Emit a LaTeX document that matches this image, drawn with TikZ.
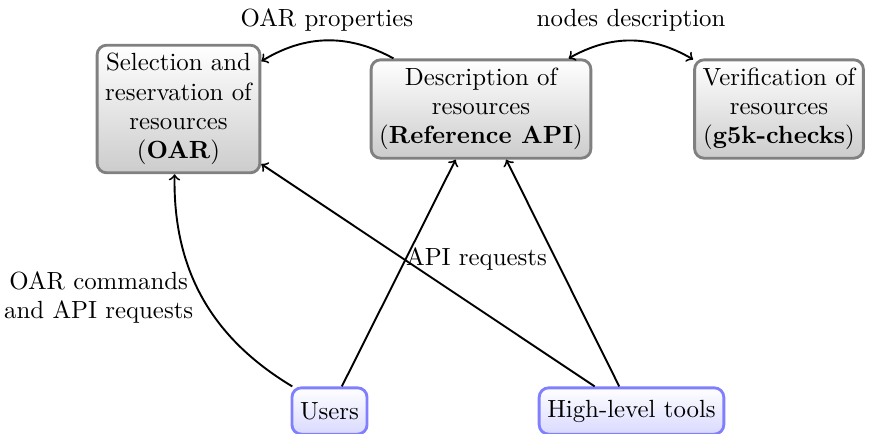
\documentclass[tikz,border=0pt]{standalone}
\usetikzlibrary{arrows}
\tikzset{
  resbox/.style={draw=gray, very thick, rounded corners, top color=white, bottom color=black!20, align=center},
  userbox/.style={draw=blue!50, very thick, rounded corners, top color=white, bottom color=blue!15, align=center, minimum height=19.5pt},
  conn/.style={->, thick},
}
\begin{document}
\begin{tikzpicture}[x=0.01478cm, y=-0.01478cm, every node/.style={font=\fontsize{10.45pt}{12.3pt}\selectfont, inner sep=3.4pt}]
\useasboundingbox (0,0) rectangle (870,433);
\node[resbox] (oar) at (178.5,109) {Selection and\\reservation of\\resources\\(\textbf{OAR})};
\node[resbox] (ref) at (481,109) {Description of\\resources\\(\textbf{Reference API})};
\node[resbox] (g5k) at (779,109) {Verification of\\resources\\(\textbf{g5k-checks})};
\node[userbox] (users) at (329.5,411) {Users};
\node[userbox] (hlt) at (631.5,411) {High-level tools};
\draw[conn] (ref) to[bend right] node[above] {OAR properties} (oar);
\draw[conn, <->] (ref) to[bend left] node[above] {nodes description} (g5k);
\draw[conn] (users) to[bend left] node[left, align=center] {OAR commands\\and API requests} (oar);
\draw[conn] (users) -- (ref);
\draw[conn] (hlt) -- (oar);
\draw[conn] (hlt) -- node[left, pos=0.56] {API requests} (ref);
\end{tikzpicture}
\end{document}
